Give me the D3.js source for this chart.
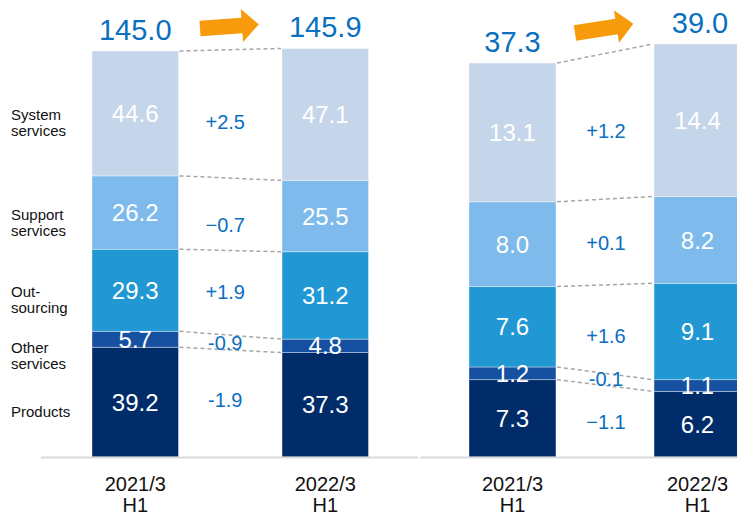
<!DOCTYPE html>
<html>
<head>
<meta charset="utf-8">
<script src="https://cdn.jsdelivr.net/npm/d3@7"></script>
<style>
  html, body { margin: 0; padding: 0; background: #fff; }
  svg { display: block; font-family: "Liberation Sans", Arial, sans-serif; }
</style>
</head>
<body>
<svg id="chart" width="737" height="515"></svg>
<script>
// ---- data ----
const categories = ["Products", "Other services", "Outsourcing", "Support services", "System services"];
const categoryLabelLines = [["Products"], ["Other", "services"], ["Out-", "sourcing"], ["Support", "services"], ["System", "services"]];
const periods = ["2021/3 H1", "2022/3 H1"];

const leftPrev = [39.2, 5.7, 29.3, 26.2, 44.6];
const leftCurr = [37.3, 4.8, 31.2, 25.5, 47.1];
const leftTotals = ["145.0", "145.9"];
const leftChanges = ["-1.9", "-0.9", "+1.9", "\u22120.7", "+2.5"];

const rightPrev = [7.3, 1.2, 7.6, 8.0, 13.1];
const rightCurr = [6.2, 1.1, 9.1, 8.2, 14.4];
const rightTotals = ["37.3", "39.0"];
const rightChanges = ["\u22121.1", "-0.1", "+1.6", "+0.1", "+1.2"];

// ---- style ----
const colors = ["#002C69", "#1651A1", "#2198D4", "#7EBAEC", "#C5D5EA"];
const blue = "#0A6FBF";
const orange = "#F79A0B";
const baseY = 457;

const svg = d3.select("#chart");

function drawPanel(cfg) {
  const y = d3.scaleLinear().domain([0, cfg.max]).range([baseY, baseY - cfg.max * cfg.k]);
  const x = d3.scaleBand().domain(periods).range(cfg.xRange).paddingInner(cfg.pad).paddingOuter(0);
  const bw = x.bandwidth();
  const series = [cfg.prev, cfg.curr];

  const stacks = series.map(vals => {
    let acc = 0;
    return vals.map((v, i) => { const s = { y0: acc, y1: acc + v, v, i }; acc += v; return s; });
  });

  const g = svg.append("g");

  stacks.forEach((st, pi) => {
    g.selectAll(null).data(st).enter().append("rect")
      .attr("x", x(periods[pi]))
      .attr("width", bw)
      .attr("y", d => y(d.y1))
      .attr("height", d => y(d.y0) - y(d.y1))
      .attr("fill", d => colors[d.i])
      .attr("stroke", "#ffffff")
      .attr("stroke-opacity", 0.45)
      .attr("stroke-width", 0.8);
  });

  const x1 = x(periods[0]) + bw, x2 = x(periods[1]);
  g.selectAll(null).data(d3.range(categories.length)).enter().append("line")
    .attr("x1", x1 + 1).attr("x2", x2 - 1)
    .attr("y1", i => y(stacks[0][i].y1))
    .attr("y2", i => y(stacks[1][i].y1))
    .attr("stroke", "#A6A6A6").attr("stroke-width", 1.5)
    .attr("stroke-dasharray", "4,3");

  stacks.forEach((st, pi) => {
    g.selectAll(null).data(st).enter().append("text")
      .attr("x", x(periods[pi]) + bw / 2)
      .attr("y", d => (y(d.y0) + y(d.y1)) / 2)
      .attr("dy", "0.36em")
      .attr("text-anchor", "middle")
      .attr("fill", "#fff")
      .attr("font-size", 24)
      .text(d => d.v.toFixed(1));
  });

  g.selectAll(null).data(cfg.changes).enter().append("text")
    .attr("x", (x1 + x2) / 2 + cfg.changeDx)
    .attr("y", (d, i) => ((y(stacks[0][i].y0) + y(stacks[0][i].y1)) / 2 + (y(stacks[1][i].y0) + y(stacks[1][i].y1)) / 2) / 2 + cfg.changeNudge[i])
    .attr("dy", "0.36em")
    .attr("text-anchor", "middle")
    .attr("fill", blue)
    .attr("font-size", 20)
    .text(d => d);

  g.selectAll(null).data(cfg.totals).enter().append("text")
    .attr("x", (d, pi) => x(periods[pi]) + bw / 2 + (pi === 1 ? cfg.total2Dx : 0))
    .attr("y", (d, pi) => y(d3.sum(series[pi])) - 11)
    .attr("text-anchor", "middle")
    .attr("fill", blue)
    .attr("font-size", 29)
    .text(d => d);

  periods.forEach(p => {
    const t = g.append("text")
      .attr("x", x(p) + bw / 2)
      .attr("text-anchor", "middle")
      .attr("fill", "#111")
      .attr("font-size", 20);
    p.split(" ").forEach((line, li) => {
      t.append("tspan").attr("x", x(p) + bw / 2).attr("y", 491 + li * 21).text(line);
    });
  });

  const a = cfg.arrow;
  g.append("path")
    .attr("d", "M0,-7.8 L42,-7.8 L42,-16.5 L59,0 L42,16.5 L42,7.8 L0,7.8 Z")
    .attr("fill", orange)
    .attr("transform", `translate(${a[0]},${a[1]}) rotate(${a[2]})`);

  return { y, stacks };
}

const left = drawPanel({
  prev: leftPrev, curr: leftCurr, totals: leftTotals, changes: leftChanges,
  max: 150, k: 2.8, xRange: [92, 368.5], pad: 0.545, changeDx: -5, total2Dx: 0,
  changeNudge: [-4, 0, -1, 10, 8],
  arrow: [200, 28.5, -4]
});
drawPanel({
  prev: rightPrev, curr: rightCurr, totals: rightTotals, changes: rightChanges,
  max: 40, k: 10.59, xRange: [469, 741], pad: 0.53, changeDx: 1, total2Dx: 2.5,
  changeNudge: [1, -1, 7, 1, 4],
  arrow: [575, 33, -9]
});

svg.append("line").attr("x1", 41).attr("x2", 418).attr("y1", baseY + 0.5).attr("y2", baseY + 0.5)
  .attr("stroke", "#D9D9D9").attr("stroke-width", 2);
svg.append("line").attr("x1", 420).attr("x2", 737).attr("y1", baseY + 0.5).attr("y2", baseY + 0.5)
  .attr("stroke", "#D9D9D9").attr("stroke-width", 2);

const labelNudge = [9, 16, 9, 10, 9];
left.stacks[0].forEach((d, i) => {
  const lines = categoryLabelLines[i];
  const cy = (left.y(d.y0) + left.y(d.y1)) / 2 + labelNudge[i];
  const lh = 15.8;
  const t = svg.append("text").attr("fill", "#111").attr("font-size", 15);
  lines.forEach((ln, li) => {
    t.append("tspan").attr("x", 11)
      .attr("y", cy - (lines.length - 1) * lh / 2 + li * lh)
      .attr("dy", "0.36em")
      .text(ln);
  });
});
</script>
</body>
</html>
